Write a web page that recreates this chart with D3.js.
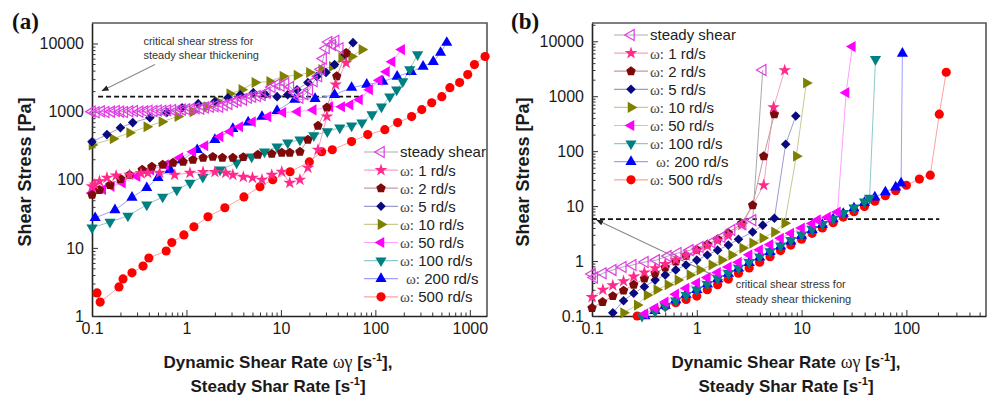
<!DOCTYPE html>
<html><head><meta charset="utf-8">
<script src="https://cdn.jsdelivr.net/npm/d3@7"></script>
<style>
html,body{margin:0;padding:0;background:#fff;}
svg{display:block;}
</style></head><body>
<svg id="c" width="988" height="396"></svg>
<script>
// ---------------- DATA ----------------
const rateLabels = ["steady shear", "1", "2", "5", "10", "50", "100", "200", "500"];
const xTicksA = [0.1, 1, 10, 100, 1000];
const yTicksA = [1, 10, 100, 1000, 10000];
const xTicksB = [0.1, 1, 10, 100];
const yTicksB = [0.1, 1, 10, 100, 1000, 10000];

// panel (a)
const aSteadyX = [0.1,0.11,0.125,0.14,0.16,0.18,0.2,0.22,0.25,0.28,0.32,0.36,0.4,0.45,0.5,0.56,0.63,0.71,0.8,0.9,1.0,1.12,1.26,1.41,1.58,1.78,2.0,2.24,2.5,2.8,3.2,3.5,4.0,4.5,5.0,5.6,6.3,7.1,8.0,9.0,10,11.2,12.6,14.1,15.8,17.8,20,22.4,25,26.6,28,30,32,35,38,42];
const aSteadyY = [1000,980,1010,990,1000,1020,1000,990,1010,1020,1000,1010,1030,1020,1040,1030,1050,1060,1050,1070,1080,1100,1120,1100,1150,1180,1200,1180,1250,1300,1400,1450,1500,1600,1650,1700,1750,1900,2300,2500,2400,2600,2300,1900,1600,1800,2100,2800,3300,4200,6000,8500,10500,9500,11000,8500];
const aW1X = [0.1,0.107,0.12,0.144,0.18,0.25,0.33,0.39,0.52,0.75,1.09,1.5,2.0,2.6,3.1,4.0,5.0,6.3,8.0,10.2,12.4,15.9,19.3,24.7,30.7,38,49];
const aW1Y = [80,85,95,107,115,118,124,126,126,118,126,130,130,126,118,110,107,100,118,131,90,100,150,276,850,2500,5200];
const aW2X = [0.1,0.12,0.155,0.2,0.25,0.34,0.43,0.56,0.72,0.92,1.17,1.5,1.9,2.4,3.1,4.0,5.7,8.0,10.2,12.4,15.9,19.3,24.7,30.7,39,49];
const aW2Y = [60,71,84,103,118,140,155,166,178,184,196,210,217,210,210,215,233,240,250,250,258,386,620,1150,3300,7300];
const aW5X = [0.1,0.144,0.2,0.27,0.41,0.62,0.9,1.33,2.0,2.75,3.7,5.1,6.8,9.1,11.8,14.8,19.3,24,30,37,48,58];
const aW5Y = [360,460,580,690,815,970,1140,1310,1410,1600,1770,1900,1800,1660,1770,2100,2680,3280,3760,4900,6900,10300];
const aW10X = [0.1,0.167,0.25,0.38,0.55,0.81,1.17,1.65,2.15,2.87,3.85,5.3,7.6,10.5,14.8,20,27,35,44,56,72];
const aW10Y = [325,400,490,600,710,850,1000,1180,1400,1830,2100,2680,2760,3300,3400,3750,4150,4600,6200,6450,8150];
const aW50X = [0.1,0.13,0.16,0.21,0.3,0.42,0.6,0.85,1.17,1.57,2.27,2.9,3.67,5.0,7.3,10.5,15,22,33,44,54,68,87,110,131,150,190];
const aW50Y = [64,72,80,90,112,140,165,210,258,316,430,510,600,710,845,970,1000,1060,1180,1180,1260,1500,2100,2900,3850,5400,8150];
const aW100X = [0.1,0.155,0.24,0.38,0.56,0.79,1.09,1.49,2.27,3.4,4.9,6.7,9.1,11.8,15.9,22.3,31,42,56,72,92,116,142,168,195,231,280];
const aW100Y = [19.7,24,29.5,43,56,71,90,110,140,178,218,258,306,350,387,445,510,580,620,690,905,1180,1660,2100,2760,4150,6900];
const aW200X = [0.108,0.175,0.265,0.38,0.5,0.67,0.9,1.3,2.0,3.1,4.5,6.3,9.1,14,23,37,56,81,120,170,240,320,410,490,570];
const aW200Y = [27.6,36,55,76,107,140,195,275,387,560,700,845,1030,1500,1550,1770,2250,2500,2760,3280,3850,4600,5400,7350,10300];
const aW500X = [0.113,0.122,0.193,0.213,0.265,0.347,0.40,0.61,0.70,0.94,1.2,1.69,2.55,4.06,6.0,8.2,12.5,20,27,35,56,83,126,172,242,310,395,505,615,780,950,1120,1450];
const aW500Y = [2.18,1.6,2.67,3.5,4.3,5.4,7.1,9.0,12,15.5,20.4,28.6,38.8,56,79,100,131,183,258,276,363,460,543,690,845,1070,1350,1660,2250,2680,3500,4900,6450];

// panel (b)
const bSteadyX = [0.1,0.105,0.127,0.158,0.197,0.245,0.32,0.41,0.53,0.66,0.86,1.07,1.39,1.73,2.15,2.74,3.41,4.26];
const bSteadyY = [0.58,0.5,0.6,0.69,0.78,0.85,0.96,1.04,1.23,1.40,1.58,1.8,2.2,2.73,3.66,4.7,5.56,3000];
const bW1X = [0.1,0.127,0.158,0.2,0.25,0.316,0.4,0.5,0.63,0.79,1.0,1.26,1.58,2.0,2.69,4.35,5.4,6.9];
const bW1Y = [0.22,0.3,0.36,0.43,0.52,0.62,0.74,0.88,1.05,1.27,1.55,1.9,2.35,2.9,4.5,24,630,2960];
const bW2X = [0.1,0.126,0.158,0.2,0.25,0.316,0.4,0.5,0.63,0.79,1.0,1.26,1.58,2.0,2.67,3.41,4.35,5.5];
const bW2Y = [0.14,0.18,0.23,0.29,0.37,0.48,0.6,0.76,0.98,1.25,1.6,2.0,2.5,3.2,4.84,10.4,81,470];
const bW5X = [0.158,0.2,0.25,0.316,0.4,0.5,0.63,0.79,1,1.26,1.58,2,2.5,3.41,4.26,5.5,7.05,8.8];
const bW5Y = [0.114,0.19,0.26,0.34,0.45,0.56,0.69,0.85,1.04,1.29,1.58,1.95,2.5,3.37,4.5,6.0,134,435];
const bW10X = [0.2,0.27,0.335,0.415,0.53,0.66,0.86,1.07,1.39,1.73,2.15,2.74,3.41,4.26,5.5,6.9,8.9,11.1];
const bW10Y = [0.114,0.158,0.24,0.30,0.37,0.45,0.56,0.69,0.85,1.04,1.29,1.72,2.12,2.62,3.37,4.9,81,1740];
const bW50X = [0.32,0.4,0.5,0.63,0.79,1.0,1.26,1.58,2.0,2.5,3.16,3.98,5.0,6.3,7.9,10,12.6,14.2,17.7,22,26.6,30.5];
const bW50Y = [0.11,0.14,0.18,0.25,0.32,0.4,0.5,0.62,0.78,0.95,1.3,1.6,2.0,2.6,3.2,4.0,4.8,5.6,6.3,7.8,1160,8000];
const bW100X = [0.3,0.4,0.5,0.63,0.79,1.0,1.26,1.58,2.0,2.5,3.16,3.98,5.0,6.3,7.9,10,12.6,15.8,20,25,31.6,39.8,44.5,50.7];
const bW100Y = [0.1,0.12,0.15,0.19,0.24,0.3,0.38,0.48,0.6,0.75,0.95,1.2,1.5,1.9,2.4,3.0,3.8,4.7,5.9,7.4,9.3,12,14,4700];
const bW200X = [0.32,0.4,0.5,0.63,0.79,1.0,1.26,1.58,2.0,2.5,3.16,3.98,5.0,6.3,7.9,10,12.6,15.8,20,25,31.6,39.8,50,63,79,89,91.6];
const bW200Y = [0.1,0.125,0.155,0.195,0.245,0.3,0.38,0.47,0.59,0.74,0.93,1.17,1.47,1.85,2.3,2.9,3.7,4.6,5.8,7.3,9.2,11.5,14.5,18,22,26,6000];
const bW500X = [0.27,0.4,0.5,0.63,0.79,1.0,1.26,1.58,2.0,2.5,3.16,3.98,5.0,6.3,7.9,10,12.6,15.8,20,25,31.6,39.8,50,63,79,100,133,169,206,240];
const bW500Y = [0.1,0.13,0.15,0.175,0.2,0.23,0.3,0.37,0.47,0.6,0.75,0.95,1.2,1.55,1.95,2.5,3.2,4.0,5.0,6.3,7.9,9.8,12.3,15.5,19,24,31,36.6,471,2730];

// critical stress annotations (data units)
const critA = {y: 1660, x: [0.116, 72], text: [0.35, 10700, 6660], arrow: [0.464, 4910, 0.128, 2030]};
const critB = {y: 5.8, x: [0.1, 206], text: [2.35, 0.38, 0.204], arrow: [2.06, 0.4, 0.111, 5.56]};
const annotLines = ["critical shear stress for", "steady shear thickening"];

// ---------------- STYLE ----------------
const SANS = "Arial, 'Liberation Sans', Helvetica, sans-serif";
const SERIF = "'Times New Roman', 'Liberation Serif', serif";
const styles = [
  {shape: "tri", rot: -90, fill: "none", stroke: "#e23de2", line: "#a9a9b4", size: 52},
  {shape: "star", rot: 0, fill: "#ff2a8c", stroke: "none", line: "#f6a2c9", size: 50},
  {shape: "pent", rot: 0, fill: "#7d0a0a", stroke: "none", line: "#c49c9c", size: 58},
  {shape: "diamond", rot: 45, fill: "#0a0a80", stroke: "none", line: "#9c9cd0", size: 46},
  {shape: "tri", rot: 90, fill: "#808000", stroke: "none", line: "#c9c994", size: 54},
  {shape: "tri", rot: -90, fill: "#ff00ff", stroke: "none", line: "#ff9eff", size: 54},
  {shape: "tri", rot: 180, fill: "#008080", stroke: "none", line: "#8fc9c9", size: 54},
  {shape: "tri", rot: 0, fill: "#0000ff", stroke: "none", line: "#9e9eff", size: 54},
  {shape: "circle", rot: 0, fill: "#ff0000", stroke: "none", line: "#ffa0a0", size: 66}
];
const pentagon = {draw(ctx, size) {
  const r = Math.sqrt(size / 2.3776);
  for (let i = 0; i < 5; i++) {
    const a = -Math.PI / 2 + i * 2 * Math.PI / 5;
    const px = r * Math.cos(a), py = r * Math.sin(a);
    if (i === 0) ctx.moveTo(px, py); else ctx.lineTo(px, py);
  }
  ctx.closePath();
}};
const shapeType = {tri: d3.symbolTriangle, star: d3.symbolStar, pent: pentagon, diamond: d3.symbolSquare, circle: d3.symbolCircle};

const svg = d3.select("#c");
svg.append("rect").attr("width", 988).attr("height", 396).attr("fill", "#fff");
const defs = svg.append("defs");
defs.append("marker").attr("id", "arr").attr("viewBox", "0 0 10 10").attr("refX", 9).attr("refY", 5)
  .attr("markerWidth", 7).attr("markerHeight", 7).attr("orient", "auto-start-reverse").attr("markerUnits", "userSpaceOnUse")
  .append("path").attr("d", "M0,1 L10,5 L0,9 z").attr("fill", "#222");

function marker(g, st, x, y) {
  g.append("path")
    .attr("transform", `translate(${x},${y}) rotate(${st.rot})`)
    .attr("d", d3.symbol().type(shapeType[st.shape]).size(st.size)())
    .attr("fill", st.fill).attr("stroke", st.stroke === "none" ? "none" : st.stroke)
    .attr("stroke-width", 1.2);
}

function minorTicks(domain) {
  const out = [];
  const lo = Math.floor(Math.log10(domain[0])), hi = Math.ceil(Math.log10(domain[1]));
  for (let k = lo; k <= hi; k++) for (let m = 2; m <= 9; m++) {
    const v = m * Math.pow(10, k);
    if (v > domain[0] && v < domain[1]) out.push(v);
  }
  return out;
}
const fmt = d => (d < 1 ? d.toString() : d3.format("d")(d));

function panel(p) {
  const x = d3.scaleLog().domain(p.xDomain).range(p.xRange);
  const y = d3.scaleLog().domain(p.yDomain).range(p.yRange);
  const g = svg.append("g");
  const [x0, x1] = p.xRange, [y0, y1] = p.yRange;

  g.append("path").attr("d", `M${x0},${y1} L${x1},${y1} L${x1},${y0}`)
    .attr("fill", "none").attr("stroke", "#555").attr("stroke-width", 1.6);

  g.append("g").attr("transform", `translate(0,${y0})`)
    .call(d3.axisBottom(x).tickValues(p.xTicks).tickFormat(fmt).tickSize(-6).tickSizeOuter(0).tickPadding(7));
  g.append("g").attr("transform", `translate(0,${y0})`)
    .call(d3.axisBottom(x).tickValues(minorTicks(p.xDomain)).tickFormat("").tickSize(-3.5).tickSizeOuter(0))
    .select(".domain").remove();
  g.append("g").attr("transform", `translate(${x0},0)`)
    .call(d3.axisLeft(y).tickValues(p.yTicks).tickFormat(fmt).tickSize(-6).tickSizeOuter(0).tickPadding(8));
  g.append("g").attr("transform", `translate(${x0},0)`)
    .call(d3.axisLeft(y).tickValues(minorTicks(p.yDomain)).tickFormat("").tickSize(-3.5).tickSizeOuter(0))
    .select(".domain").remove();
  g.selectAll(".domain").attr("stroke", "#222").attr("stroke-width", 1.6);
  g.selectAll(".tick line").attr("stroke", "#333").attr("stroke-width", 1);
  g.selectAll(".tick text").attr("font-family", SANS).attr("font-size", 16).attr("fill", "#1a1a1a");

  const c = p.crit;
  g.append("line").attr("x1", x(c.x[0])).attr("x2", x(c.x[1])).attr("y1", y(c.y)).attr("y2", y(c.y))
    .attr("stroke", "#111").attr("stroke-width", 1.7).attr("stroke-dasharray", "5,3");
  g.append("line").attr("x1", x(c.arrow[0])).attr("y1", y(c.arrow[1])).attr("x2", x(c.arrow[2])).attr("y2", y(c.arrow[3]))
    .attr("stroke", "#8a8a8a").attr("stroke-width", 1.1).attr("marker-end", "url(#arr)");
  annotLines.forEach((t, i) => {
    g.append("text").attr("x", x(c.text[0])).attr("y", y(c.text[1 + i])).attr("dy", "0.35em")
      .attr("font-family", SANS).attr("font-size", 11).attr("fill", "#333").text(t);
  });

  const line = d3.line().x(d => x(d[0])).y(d => y(d[1]));
  p.series.forEach((s, i) => {
    const pts = s[0].map((v, j) => [v, s[1][j]]);
    g.append("path").attr("d", line(pts)).attr("fill", "none").attr("stroke", styles[i].line).attr("stroke-width", 1);
  });
  for (let i = p.series.length - 1; i >= 0; i--) {
    const s = p.series[i];
    s[0].forEach((v, j) => marker(g, styles[i], x(v), y(s[1][j])));
  }

  rateLabels.forEach((lab, i) => {
    const ly = p.legend.y + i * p.legend.dy;
    g.append("line").attr("x1", p.legend.x - 17).attr("x2", p.legend.x + 17).attr("y1", ly).attr("y2", ly)
      .attr("stroke", styles[i].line).attr("stroke-width", 1.2);
    marker(g, styles[i], p.legend.x, ly);
    const t = g.append("text").attr("x", p.legend.x + 19 + (lab === "200" ? 6 : 0)).attr("y", ly).attr("dy", "0.36em")
      .attr("font-family", SANS).attr("font-size", 15).attr("fill", "#222");
    if (i === 0) t.text(lab);
    else {
      t.append("tspan").attr("font-family", SERIF).attr("font-size", 15).attr("fill", "#444").text("ω:");
      t.append("tspan").text(" " + lab + " rd/s");
    }
  });

  g.append("text").attr("transform", `translate(${p.yTitleX},172) rotate(-90)`).attr("text-anchor", "middle")
    .attr("dy", "0.35em").attr("font-family", SANS).attr("font-weight", "bold").attr("font-size", 18).attr("fill", "#1a1a1a")
    .text("Shear Stress [Pa]");
  const t1 = g.append("text").attr("x", p.xTitleX).attr("y", 368).attr("text-anchor", "middle")
    .attr("font-family", SANS).attr("font-weight", "bold").attr("font-size", 17).attr("fill", "#1a1a1a");
  t1.append("tspan").text("Dynamic Shear Rate ");
  t1.append("tspan").attr("font-family", SERIF).attr("font-weight", "normal").attr("font-size", 18).text("ωγ");
  t1.append("tspan").text(" [s");
  t1.append("tspan").attr("font-size", 11).attr("dy", -7).text("-1");
  t1.append("tspan").attr("dy", 7).text("],");
  const t2 = g.append("text").attr("x", p.xTitleX).attr("y", 392).attr("text-anchor", "middle")
    .attr("font-family", SANS).attr("font-weight", "bold").attr("font-size", 17).attr("fill", "#1a1a1a");
  t2.append("tspan").text("Steady Shar Rate [s");
  t2.append("tspan").attr("font-size", 11).attr("dy", -7).text("-1");
  t2.append("tspan").attr("dy", 7).text("]");

  svg.append("text").attr("x", p.letterX).attr("y", 29).attr("font-family", SERIF).attr("font-weight", "bold")
    .attr("font-size", 23).attr("fill", "#111").text(p.letter);
}

panel({
  letter: "(a)", letterX: 12,
  xDomain: [0.1, 1520], xRange: [92, 487], yDomain: [1, 20000], yRange: [316, 23],
  xTicks: xTicksA, yTicks: yTicksA, crit: critA,
  series: [[aSteadyX, aSteadyY], [aW1X, aW1Y], [aW2X, aW2Y], [aW5X, aW5Y], [aW10X, aW10Y], [aW50X, aW50Y], [aW100X, aW100Y], [aW200X, aW200Y], [aW500X, aW500Y]],
  legend: {x: 381, y: 152, dy: 18.1}, yTitleX: 25, xTitleX: 278
});
panel({
  letter: "(b)", letterX: 511,
  xDomain: [0.1, 575], xRange: [592, 986], yDomain: [0.1, 21500], yRange: [316, 23],
  xTicks: xTicksB, yTicks: yTicksB, crit: critB,
  series: [[bSteadyX, bSteadyY], [bW1X, bW1Y], [bW2X, bW2Y], [bW5X, bW5Y], [bW10X, bW10Y], [bW50X, bW50Y], [bW100X, bW100Y], [bW200X, bW200Y], [bW500X, bW500Y]],
  legend: {x: 631, y: 35, dy: 18.1}, yTitleX: 523, xTitleX: 786
});
</script>
</body></html>
